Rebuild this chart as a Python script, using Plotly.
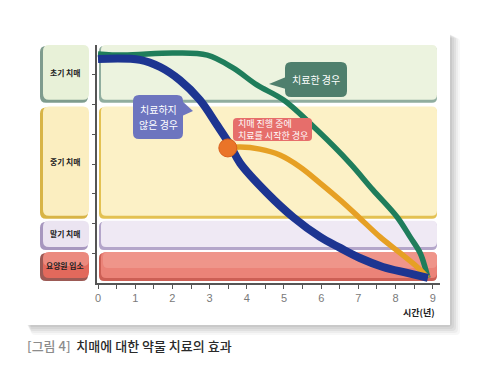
import plotly.graph_objects as go

# ---------------- data ----------------
stage_names = ["초기 치매", "중기 치매", "말기 치매", "요양원 입소"]
stage_top = [8.0, 5.93, 2.09, 1.04]
stage_bottom = [6.09, 2.19, 1.14, 0.10]

years_untreated = [0, 1.13, 1.67, 2.2, 2.74, 3.2, 3.55, 3.82, 4.54, 5.24, 5.97, 6.51, 7.04, 7.66, 8.31, 8.87]
stage_untreated = [7.53, 7.50, 7.26, 6.82, 6.15, 5.31, 4.64, 4.03, 3.03, 2.22, 1.55, 1.18, 0.84, 0.54, 0.34, 0.17]

years_treated = [0, 0.68, 2.03, 2.94, 3.63, 4.27, 4.99, 5.89, 6.77, 7.39, 8.04, 8.39, 8.66, 8.79, 8.87]
stage_treated = [7.70, 7.66, 7.73, 7.66, 7.23, 6.66, 6.15, 5.14, 4.03, 3.13, 2.22, 1.55, 1.01, 0.54, 0.17]

years_late = [3.49, 3.82, 4.35, 4.89, 5.43, 5.97, 6.51, 7.04, 7.58, 8.12, 8.58, 8.87]
stage_late = [4.54, 4.57, 4.50, 4.30, 3.90, 3.36, 2.79, 2.18, 1.55, 1.01, 0.54, 0.17]

start_year = [3.49]
start_stage = [4.54]

x_ticks = list(range(10))
x_tick_labels = [str(v) for v in x_ticks]
y_ticks = [1, 2, 3, 4, 5, 6, 7]

callout_treated = "치료한 경우"
callout_untreated = ["치료하지", "않은 경우"]
callout_late = "치매 진행 중에<br>치료를 시작한 경우"
x_title = "시간(년)"
caption_tag = "[그림 4]"
caption_text = "치매에 대한 약물 치료의 효과"

# ---------------- styles ----------------
FONT = "Noto Sans CJK KR"
stage_fill = ["#ecf3df", "#fcf1c6", "#efe9f4", "#eb8378"]
stage_edge = ["#90ad9f", "#e3c152", "#b4a6ca", "#cc5f55"]
box_fill = ["#e8f1d8", "#fbeec0", "#ebe4f1", "#e2695c"]
box_edge = ["#7f9c8e", "#d8b446", "#a797bf", "#9c5a55"]

W, H = 481, 392
ML, MR, MT, MB = 97, 41, 45, 109
PW, PH = W - ML - MR, H - MT - MB
X_RANGE = [-0.027, 9.194]
Y_RANGE = [0, 8]


def pxp(px):
    return (px - ML) / PW


def pyp(py):
    return (H - MB - py) / PH


def y2py(y):
    return MT + (Y_RANGE[1] - y) / (Y_RANGE[1] - Y_RANGE[0]) * PH


def rr(x0, y0, x1, y1, r):
    pts = lambda a, b: f"{pxp(a):.5f},{pyp(b):.5f}"
    return (f"M{pts(x0 + r, y0)} L{pts(x1 - r, y0)} Q{pts(x1, y0)} {pts(x1, y0 + r)} "
            f"L{pts(x1, y1 - r)} Q{pts(x1, y1)} {pts(x1 - r, y1)} L{pts(x0 + r, y1)} "
            f"Q{pts(x0, y1)} {pts(x0, y1 - r)} L{pts(x0, y0 + r)} Q{pts(x0, y0)} {pts(x0 + r, y0)} Z")


def tri(a, b, c):
    p = lambda q: f"{pxp(q[0]):.5f},{pyp(q[1]):.5f}"
    return f"M{p(a)} L{p(b)} L{p(c)} Z"


def pshape(path, color):
    return dict(type="path", xref="paper", yref="paper", layer="below", path=path,
                fillcolor=color, line=dict(width=0))


shapes = []
# card shadow + card
for i, op in enumerate([0.05, 0.05, 0.05, 0.04, 0.03]):
    d = i + 1
    shapes.append(pshape(rr(26 + d, 33 + d, 450 + d * 2, 325 + d * 2, 4), f"rgba(0,0,0,{op})"))
shapes.append(dict(type="rect", xref="paper", yref="paper", layer="below",
                   x0=pxp(26), x1=pxp(450), y0=pyp(33), y1=pyp(325),
                   fillcolor="#ffffff", line=dict(width=0)))

# bands and left label boxes
for i in range(len(stage_names)):
    t, b = y2py(stage_top[i]), y2py(stage_bottom[i])
    shapes.append(pshape(rr(99, t + 1, 437, b + 1, 5), stage_edge[i]))
    shapes.append(pshape(rr(101, t, 437, b - 2, 5), stage_fill[i]))
    shapes.append(pshape(rr(40, t + 1, 88, b + 1, 6), box_edge[i]))
    shapes.append(pshape(rr(43, t, 89, b - 2, 6), box_fill[i]))

# soft lighter top on the red band and red box
t, b = y2py(stage_top[3]), y2py(stage_bottom[3])
shapes.append(pshape(rr(103, t, 437, (t + b) / 2 + 2, 5), "rgba(255,215,205,0.22)"))
shapes.append(pshape(rr(43, t, 89, (t + b) / 2, 6), "rgba(255,215,205,0.30)"))

# callouts (drawn above the curves)
shapes += [
    dict(type="path", xref="paper", yref="paper", path=rr(285, 62, 347, 97, 6),
         fillcolor="#4f7f6d", line=dict(width=0)),
    dict(type="path", xref="paper", yref="paper", path=tri((286, 77), (286, 89), (269, 84)),
         fillcolor="#4f7f6d", line=dict(width=0)),
    dict(type="path", xref="paper", yref="paper", path=rr(133, 95, 183, 139, 6),
         fillcolor="#6d75bf", line=dict(width=0)),
    dict(type="path", xref="paper", yref="paper", path=tri((182, 101), (182, 116), (193, 111)),
         fillcolor="#6d75bf", line=dict(width=0)),
    dict(type="path", xref="paper", yref="paper", path=rr(233, 118, 312, 141, 4),
         fillcolor="#e66e6b", line=dict(width=0)),
]

fig = go.Figure()
fig.add_trace(go.Scatter(x=years_treated, y=stage_treated, mode="lines",
                         line=dict(color="#1f7d5b", width=5.5, shape="spline", smoothing=1),
                         hoverinfo="skip", showlegend=False))
fig.add_trace(go.Scatter(x=years_late, y=stage_late, mode="lines",
                         line=dict(color="#e6a024", width=5.5, shape="spline", smoothing=1),
                         hoverinfo="skip", showlegend=False))
fig.add_trace(go.Scatter(x=years_untreated, y=stage_untreated, mode="lines",
                         line=dict(color="#1d3591", width=8, shape="spline", smoothing=1),
                         hoverinfo="skip", showlegend=False))
fig.add_trace(go.Scatter(x=start_year, y=start_stage, mode="markers",
                         marker=dict(size=18, color="#ea7428", line=dict(color="#d8601c", width=1)),
                         hoverinfo="skip", showlegend=False))


def ann(px, py, text, size, color, xanchor="center", align="center", weight=None):
    font = dict(family=FONT, size=size, color=color)
    if weight:
        font["weight"] = weight
    return dict(xref="paper", yref="paper", x=pxp(px), y=pyp(py), xanchor=xanchor, yanchor="middle",
                text=text, showarrow=False, align=align, font=font)


annotations = []
for i, name in enumerate(stage_names):
    annotations.append(ann(65, (y2py(stage_top[i]) + y2py(stage_bottom[i])) / 2 - 1,
                           f"<b>{name}</b>", 7.8, "#222222"))
annotations += [
    ann(316, 79.5, callout_treated, 10, "#ffffff"),
    ann(158, 109.5, callout_untreated[0], 10, "#ffffff"),
    ann(158, 124.5, callout_untreated[1], 10, "#ffffff"),
    ann(236, 129.5, callout_late, 9, "#ffffff", xanchor="left", align="left"),
    ann(437, 312, f"<b>{x_title}</b>", 9, "#222222", xanchor="right"),
    ann(25, 345, f"<span style='color:#8c8c8c'>{caption_tag}</span>\u00a0\u00a0{caption_text}",
        13, "#2a2a2a", xanchor="left", weight=500),
]

fig.update_layout(
    width=W, height=H,
    margin=dict(l=ML, r=MR, t=MT, b=MB, pad=0),
    paper_bgcolor="#ffffff", plot_bgcolor="rgba(0,0,0,0)",
    shapes=shapes, annotations=annotations,
    xaxis=dict(range=X_RANGE, tickvals=x_ticks, ticktext=x_tick_labels, showgrid=False, zeroline=False,
               showline=True, linecolor="#555555", linewidth=1.5, ticks="outside", ticklen=4,
               tickcolor="#555555", tickwidth=1,
               minor=dict(dtick=0.5, tick0=0, ticks="outside", ticklen=4, tickcolor="#555555", showgrid=False),
               tickfont=dict(family="Liberation Sans", size=11, color="#7a7a7a")),
    yaxis=dict(range=Y_RANGE, tickvals=y_ticks, showticklabels=False, showgrid=False, zeroline=False,
               showline=True, linecolor="#555555", linewidth=1.5, ticks="outside", ticklen=3,
               tickcolor="#555555"),
)

fig.write_html("out.html", config={"displayModeBar": False},
               post_script="document.body.style.margin='0px';document.body.style.overflow='hidden';")
